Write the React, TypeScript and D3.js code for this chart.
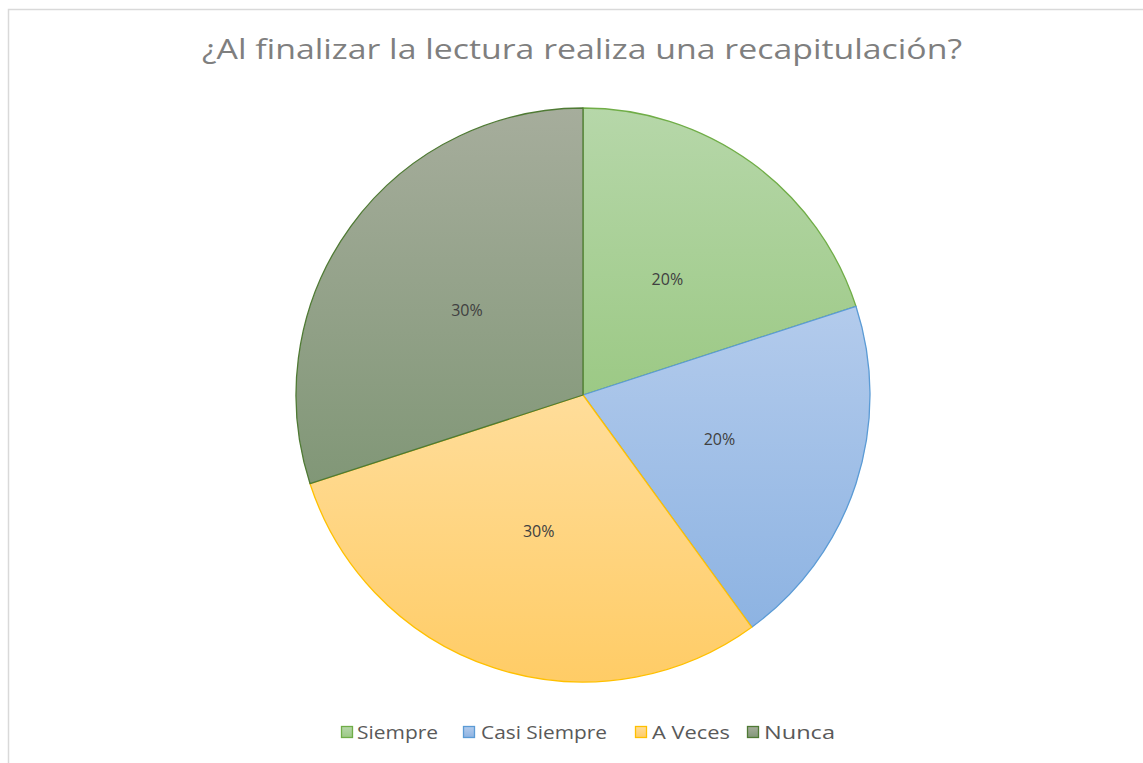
import React from "react";
import * as d3 from "d3";

const title = "¿Al finalizar la lectura realiza una recapitulación?";
const categories = ["Siempre", "Casi Siempre", "A Veces", "Nunca"];
const values = [20, 20, 30, 30];
const topColors = ["#b6d7a9", "#b3cbec", "#ffdd9a", "#a6ad9c"];
const bottomColors = ["#9cc985", "#8db3e2", "#ffcc66", "#819777"];
const strokeColors = ["#70ad47", "#5b9bd5", "#ffc000", "#4f7a34"];

const W = 1143;
const H = 763;
const cx = 583;
const cy = 395;
const R = 287;

export default function App() {
  const pie = d3.pie<number>().sort(null).value((d) => d);
  const arcs = pie(values);
  const arc = d3.arc<d3.PieArcDatum<number>>().innerRadius(0).outerRadius(R);
  const labelArc = d3.arc<d3.PieArcDatum<number>>().innerRadius(R * 0.5).outerRadius(R * 0.5);
  const total = d3.sum(values);

  const legendItems = [
    { sq: 341, tx: 357, w: 81 },
    { sq: 463, tx: 481, w: 126 },
    { sq: 635, tx: 652, w: 78 },
    { sq: 747, tx: 764, w: 71 },
  ];

  return (
    <svg
      width={W}
      height={H}
      style={{ position: "absolute", left: 0, top: 0, display: "block" }}
    >
      <defs>
        {categories.map((c, i) => (
          <linearGradient key={c} id={`g${i}`} x1="0" y1="0" x2="0" y2="1">
            <stop offset="0%" stopColor={topColors[i]} />
            <stop offset="100%" stopColor={bottomColors[i]} />
          </linearGradient>
        ))}
      </defs>
      <rect x={0} y={0} width={W} height={H} fill="#ffffff" />
      <rect x={8.5} y={9.5} width={W + 20} height={H + 20} fill="#ffffff" stroke="#d9d9d9" strokeWidth={1.5} />
      <text
        x={582}
        y={59}
        textAnchor="middle"
        fontFamily="'Open Sans', 'Liberation Sans', sans-serif"
        fontSize={27}
        fill="#7f7f7f"
        textLength={760}
        lengthAdjust="spacingAndGlyphs"
      >
        {title}
      </text>
      <g transform={`translate(${cx},${cy})`}>
        {arcs.map((a, i) => (
          <path
            key={categories[i]}
            d={arc(a) || ""}
            fill={`url(#g${i})`}
            stroke={strokeColors[i]}
            strokeWidth={1.3}
            strokeLinejoin="round"
          />
        ))}
        {arcs.map((a, i) => {
          const [lx, ly] = labelArc.centroid(a);
          return (
            <text
              key={"l" + i}
              x={lx}
              y={ly}
              dy="0.35em"
              textAnchor="middle"
              fontFamily="'Open Sans', 'Liberation Sans', sans-serif"
              fontSize={16}
              fill="#404040"
            >
              {`${Math.round((values[i] / total) * 100)}%`}
            </text>
          );
        })}
      </g>
      {categories.map((c, i) => (
        <g key={"lg" + i}>
          <rect
            x={legendItems[i].sq + 0.5}
            y={726.5}
            width={11}
            height={11}
            fill={`url(#g${i})`}
            stroke={strokeColors[i]}
            strokeWidth={1.3}
          />
          <text
            x={legendItems[i].tx}
            y={739}
            fontFamily="'Open Sans', 'Liberation Sans', sans-serif"
            fontSize={19}
            fill="#595959"
            textLength={legendItems[i].w}
            lengthAdjust="spacingAndGlyphs"
          >
            {c}
          </text>
        </g>
      ))}
    </svg>
  );
}
